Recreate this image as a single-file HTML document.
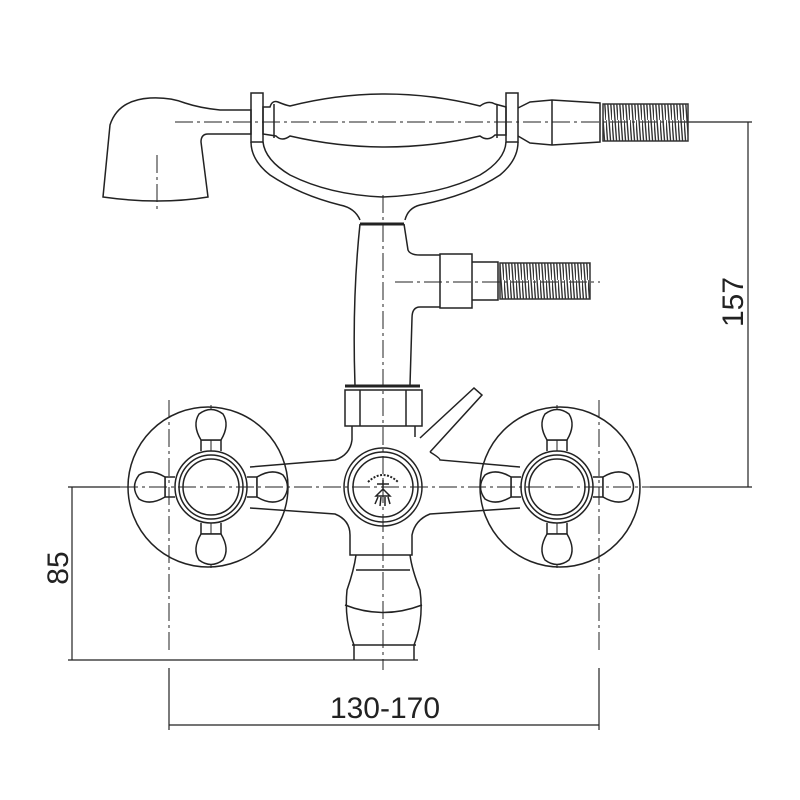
<!DOCTYPE html>
<html><head><style>html,body{margin:0;padding:0;background:#fff}svg{display:block}</style></head>
<body>
<svg width="800" height="800" viewBox="0 0 800 800" xmlns="http://www.w3.org/2000/svg">
<defs>
<pattern id="hz" width="6" height="40" patternUnits="userSpaceOnUse">
<path d="M0 0 L3 40 M3 0 L6 40" stroke="#333" stroke-width="1.4" fill="none"/>
</pattern>
</defs>
<g fill="none" stroke="#222" stroke-width="1.5">
<!-- center lines -->
<g stroke-width="1" stroke-dasharray="18 4 3 4">
<line x1="175" y1="122" x2="690" y2="122"/>
<line x1="383" y1="195" x2="383" y2="670"/>
<line x1="395" y1="282" x2="600" y2="282"/>
<line x1="120" y1="487" x2="650" y2="487"/>
<line x1="169" y1="400" x2="169" y2="650"/>
<line x1="599" y1="400" x2="599" y2="650"/>
<line x1="211" y1="405" x2="211" y2="570"/>
<line x1="557" y1="405" x2="557" y2="570"/>
<line x1="157" y1="155" x2="157" y2="212"/>
</g>
<!-- dimension lines -->
<g stroke-width="1.2">
<line x1="680" y1="122" x2="752" y2="122"/>
<line x1="748" y1="122" x2="748" y2="487"/>
<line x1="650" y1="487" x2="752" y2="487"/>
<line x1="68" y1="487" x2="120" y2="487"/>
<line x1="72" y1="487" x2="72" y2="660"/>
<line x1="68" y1="660" x2="418" y2="660"/>
<line x1="169" y1="668" x2="169" y2="730"/>
<line x1="599" y1="668" x2="599" y2="730"/>
<line x1="169" y1="725" x2="599" y2="725"/>
</g>
<!-- shower head -->
<path d="M103 197 L110 125 Q118 100 150 98 Q170 97 185 103 Q200 108 220 110 L251 110 L251 134 L208 134 Q201 134 201 142 L208 197 Q160 205 103 197 Z"/>
<!-- handle -->
<rect x="251" y="93" width="12" height="49"/>
<rect x="506" y="93" width="12" height="49"/>
<path d="M263 107 L270 107 Q272 100 278 102 Q285 105 290 106 Q385 82 480 106 Q488 100 495 104 L506 107 L506 135 L495 135 Q488 142 480 136 Q385 158 290 136 Q282 142 276 136 L263 134 Z"/>
<line x1="274" y1="104" x2="274" y2="138"/><line x1="497" y1="104" x2="497" y2="138"/>
<!-- hose top -->
<path d="M518 108 L530 102 L552 100 L600 103 L600 142 L552 145 L530 143 L518 136"/>
<line x1="552" y1="100" x2="552" y2="145"/>
<rect x="603" y="104" width="85" height="37" fill="url(#hz)" stroke="#333"/>
<!-- fork -->
<path d="M251 142 Q251 160 270 175 Q300 195 340 205 Q355 208 360 220"/>
<path d="M263 142 Q265 160 290 175 Q330 195 383 197 Q440 195 480 175 Q505 160 506 142"/>
<path d="M518 142 Q518 160 500 175 Q470 195 420 205 Q408 208 405 220"/>
<line x1="360" y1="224" x2="404" y2="224" stroke-width="3"/>
<!-- stem -->
<path d="M360 224 Q352 300 355 385"/>
<path d="M404 224 L408 250 Q410 255 420 255 L440 255"/>
<path d="M440 307 L420 307 Q412 307 412 318 L410 385"/>
<rect x="440" y="254" width="32" height="54"/>
<path d="M472 262 L498 262 L498 300 L472 300"/>
<rect x="500" y="263" width="90" height="36" fill="url(#hz)" stroke="#333"/>
<!-- nut -->
<line x1="345" y1="386" x2="420" y2="386" stroke-width="3"/>
<rect x="345" y="390" width="77" height="36"/>
<line x1="360" y1="390" x2="360" y2="426"/><line x1="406" y1="390" x2="406" y2="426"/>
<path d="M352 426 L352 440 M415 426 L415 437"/>
<!-- lever -->
<path d="M420 438 L474 388 L482 395 L430 452"/>
<!-- body -->
<path d="M352 440 Q350 455 335 460 L250 467 M430 452 Q440 458 440 460 L520 467"/>
<path d="M250 508 L335 514 Q350 520 350 535 L350 555 L412 555 L412 535 Q415 520 430 514 L520 508"/>
<!-- spout -->
<path d="M356 555 Q354 570 347 590 Q344 620 354 645 L354 660 M410 555 Q412 570 420 590 Q424 620 414 645 L414 660"/>
<line x1="356" y1="570" x2="410" y2="570"/>
<path d="M345 605 Q383 620 422 605"/>
<line x1="352" y1="645" x2="416" y2="645"/>
<!-- central dial -->
<circle cx="383" cy="487" r="39"/>
<circle cx="383" cy="487" r="35"/>
<circle cx="383" cy="487" r="30"/>
<path d="M368 482 Q383 468 398 482" stroke-width="2" stroke-dasharray="2 1.5"/>
<path d="M383 480 L383 490 M377 484 L389 484 M376 496 L390 496 L383 489 Z M375 504 L378 497 M380 506 L381 497 M385 506 L385 497 M390 504 L388 497" stroke-width="1.5"/>
<!-- rosettes -->
<circle cx="208" cy="487" r="80"/>
<circle cx="560" cy="487" r="80"/>
</g>
<!-- handles -->
<g id="h1" fill="#fff" stroke="#222" stroke-width="1.5">
<circle cx="211" cy="487" r="36"/>
<circle cx="211" cy="487" r="32"/>
<circle cx="211" cy="487" r="28"/>
<path d="M201 451 L201 440 L221 440 L221 451 M201 523 L201 534 L221 534 L221 523 M175 477 L165 477 L165 497 L175 497 M247 477 L257 477 L257 497 L247 497" fill="none"/>
<path d="M201 440 Q192 425 199 414 Q211 405 223 414 Q230 425 221 440 Z"/>
<path d="M201 534 Q192 549 199 560 Q211 569 223 560 Q230 549 221 534 Z"/>
<path d="M165 477 Q150 468 139 475 Q130 487 139 499 Q150 506 165 497 Z"/>
<path d="M257 477 Q272 468 283 475 Q292 487 283 499 Q272 506 257 497 Z"/>
</g>
<use href="#h1" x="346"/>
<g stroke="#222" stroke-width="1" stroke-dasharray="18 4 3 4"><line x1="120" y1="487" x2="650" y2="487"/></g>
<g font-family="Liberation Sans, sans-serif" font-size="30" fill="#222">
<text x="385" y="718" text-anchor="middle">130-170</text>
<text transform="translate(68,568) rotate(-90)" text-anchor="middle">85</text>
<text transform="translate(743,302) rotate(-90)" text-anchor="middle">157</text>
</g>
</svg>
</body></html>
